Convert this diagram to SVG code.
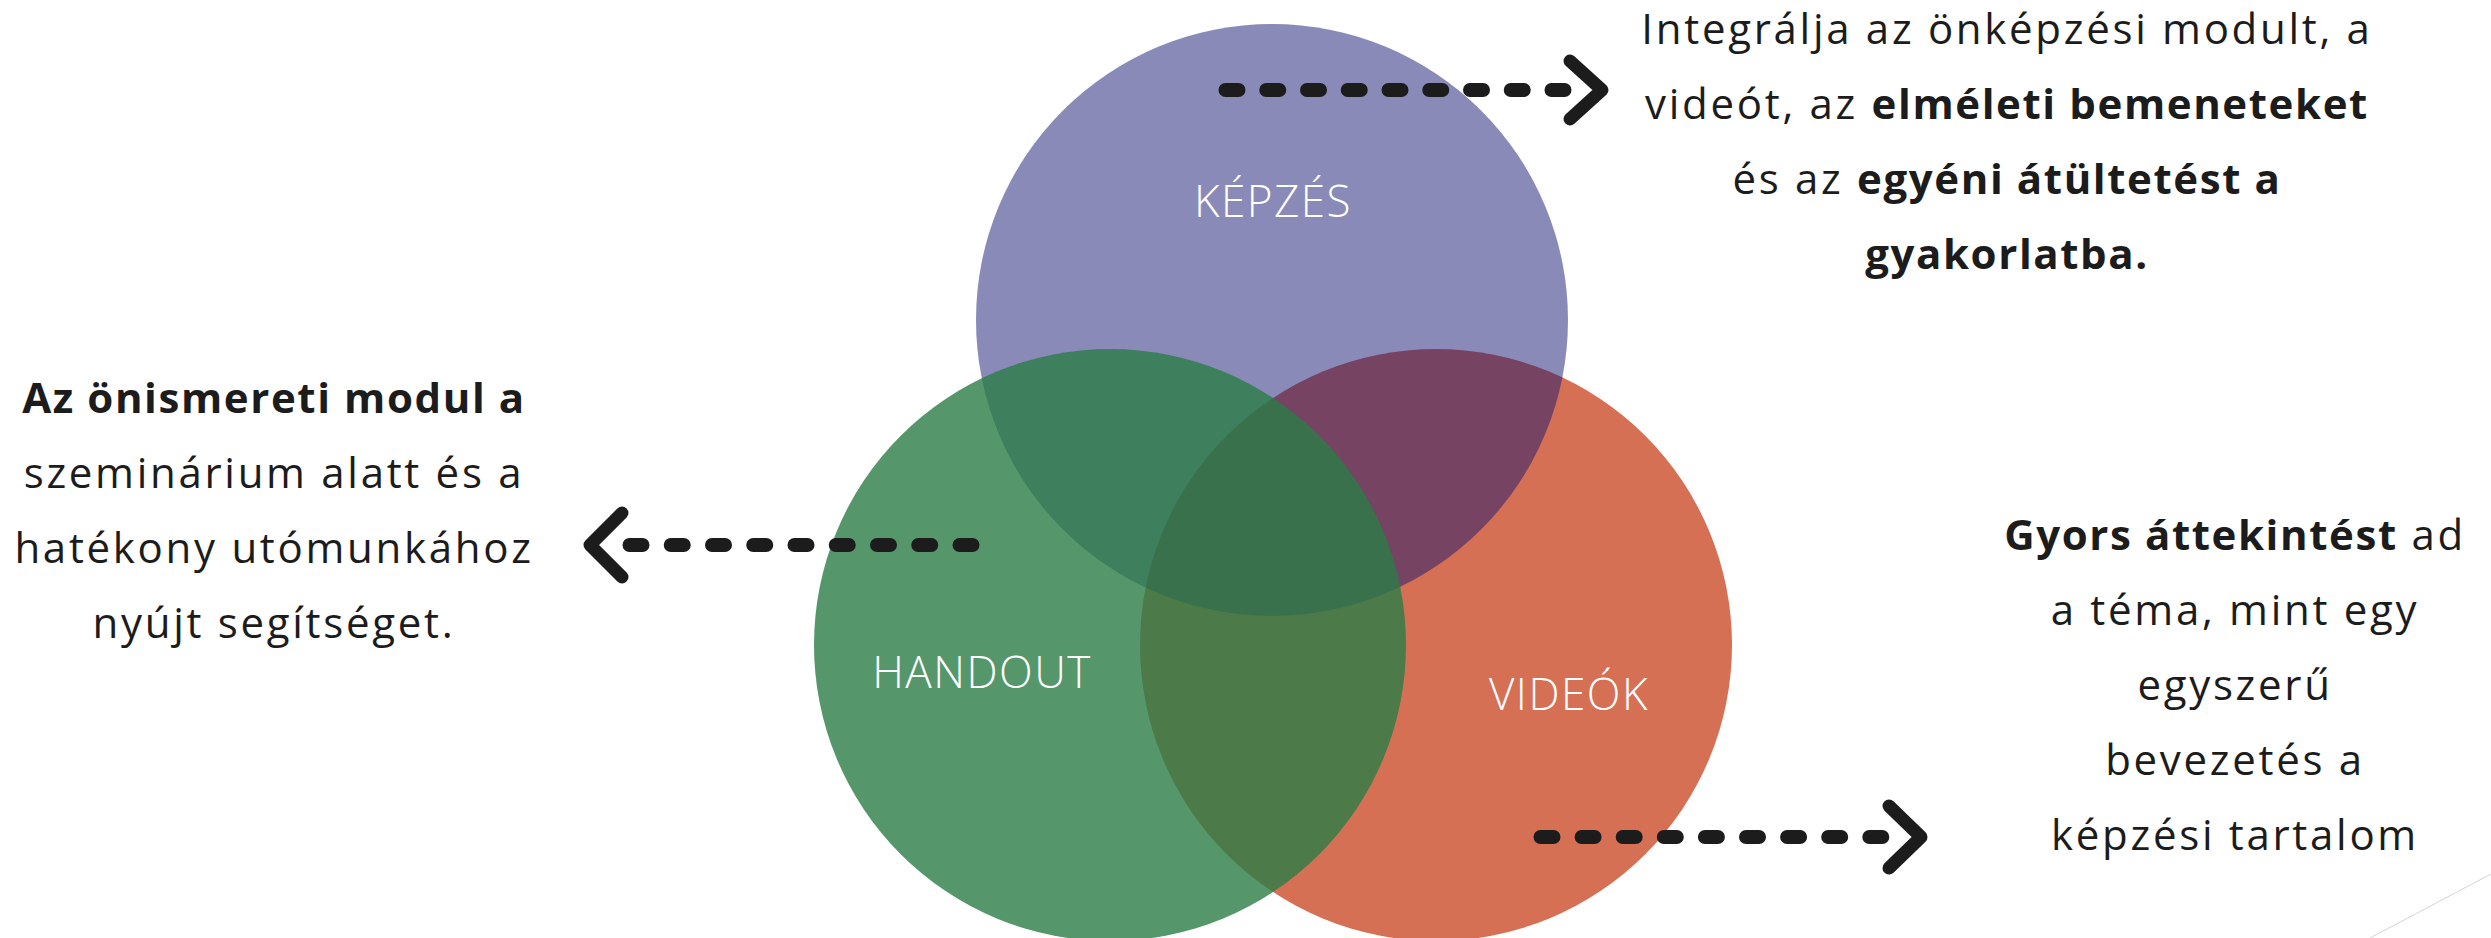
<svg xmlns="http://www.w3.org/2000/svg" width="2491" height="938" viewBox="0 0 2491 938">
  <style>
    .body { font-family: "Open Sans", "Liberation Sans", sans-serif; font-size: 42px; fill: #1c1c1c; letter-spacing: 2.7px; text-anchor: middle; }
    .b { font-weight: 700; letter-spacing: 1.6px; }
    .label { font-family: "Open Sans", "Liberation Sans", sans-serif; font-size: 44px; font-weight: 300; fill: #ffffff; text-anchor: middle; letter-spacing: 1.5px; }
    .dots { fill: none; stroke: #1c1c1c; stroke-width: 14; stroke-linecap: round; }
    .chev { fill: none; stroke: #1c1c1c; stroke-width: 13; stroke-linecap: round; stroke-linejoin: round; }
  </style>
  <rect x="0" y="0" width="2491" height="938" fill="#ffffff"/>

  <g id="node-videok">
    <circle cx="1436" cy="645" r="296" fill="#D67055"/>
  </g>
  <g id="node-kepzes">
    <circle cx="1272" cy="320" r="296" fill="#151571" fill-opacity="0.5"/>
  </g>
  <g id="node-handout">
    <circle cx="1110" cy="645" r="296" fill="#2A7D46" fill-opacity="0.8"/>
  </g>

  <g id="labels">
    <text class="label" x="1273" y="217">KÉPZÉS</text>
    <text class="label" x="982" y="688">HANDOUT</text>
    <text class="label" x="1569" y="710">VIDEÓK</text>
  </g>

  <g id="connectors">
    <g id="arrow-top">
      <line class="dots" x1="1225.5" y1="90" x2="1564.5" y2="90" stroke-dasharray="13 27.75"/>
      <polyline class="chev" points="1570,61 1602,90 1570,119"/>
    </g>
    <g id="arrow-left">
      <line class="dots" x1="972.5" y1="545" x2="629.5" y2="545" stroke-dasharray="13 28.25"/>
      <polyline class="chev" points="622,513 590,545 622,577"/>
    </g>
    <g id="arrow-bottom">
      <line class="dots" x1="1540.5" y1="837" x2="1882.5" y2="837" stroke-dasharray="13 28.1"/>
      <polyline class="chev" points="1889,806 1921,837 1889,868"/>
    </g>
  </g>

  <g id="text-top">
    <text class="body" x="2007" y="44">Integrálja az önképzési modult, a</text>
    <text class="body" x="2007" y="119">videót, az <tspan class="b">elméleti bemeneteket</tspan></text>
    <text class="body" x="2007" y="194">és az <tspan class="b">egyéni átültetést a</tspan></text>
    <text class="body b" x="2007" y="269">gyakorlatba.</text>
  </g>

  <g id="text-left">
    <text class="body b" x="274" y="413">Az önismereti modul a</text>
    <text class="body" x="274" y="488">szeminárium alatt és a</text>
    <text class="body" x="274" y="563">hatékony utómunkához</text>
    <text class="body" x="274" y="638">nyújt segítséget.</text>
  </g>

  <g id="text-bottom">
    <text class="body" x="2235" y="550"><tspan class="b">Gyors áttekintést</tspan> ad</text>
    <text class="body" x="2235" y="625">a téma, mint egy</text>
    <text class="body" x="2235" y="700">egyszerű</text>
    <text class="body" x="2235" y="775">bevezetés a</text>
    <text class="body" x="2235" y="850">képzési tartalom</text>
  </g>

  <line x1="2370" y1="938" x2="2491" y2="874" stroke="#d4d4d4" stroke-width="1"/>
</svg>
